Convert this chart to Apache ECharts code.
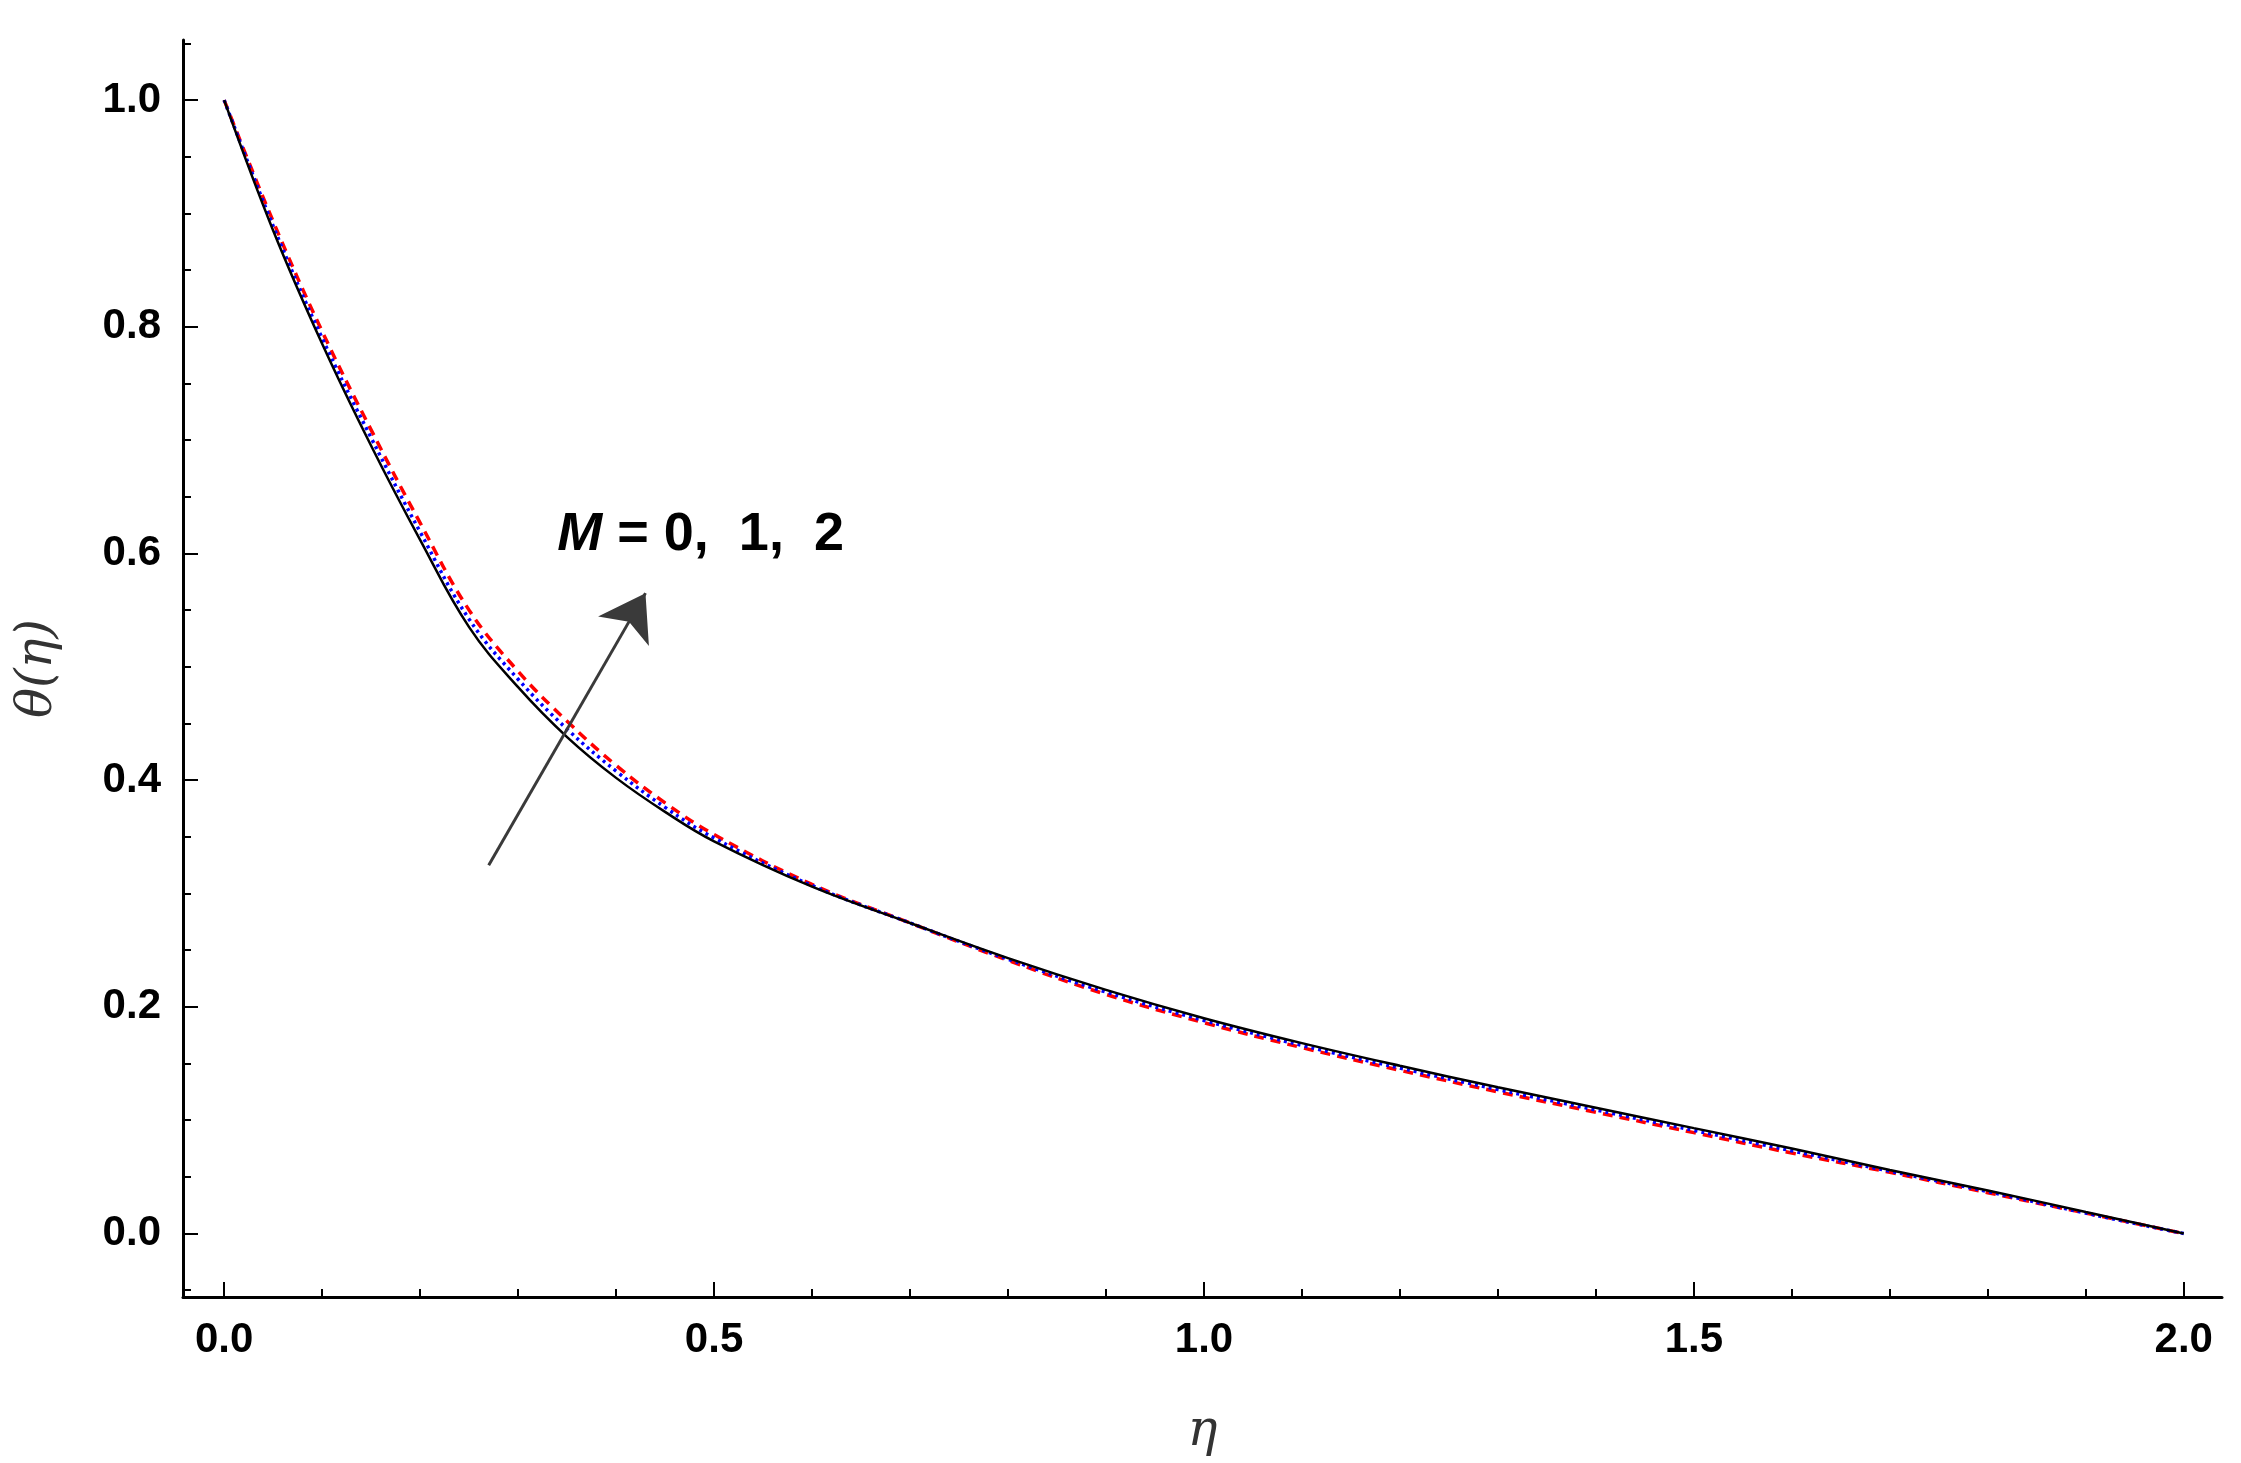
<!DOCTYPE html>
<html>
<head>
<meta charset="utf-8">
<script src="https://cdn.jsdelivr.net/npm/echarts@6/dist/echarts.min.js"></script>
<style>
  html, body { margin: 0; padding: 0; background: #fff; }
  #chart { width: 2241px; height: 1463px; }
</style>
</head>
<body>
<div id="chart"></div>
<script>
// Curve data
const eta = [0, 0.05, 0.1, 0.15, 0.2, 0.25, 0.3, 0.35, 0.4, 0.45, 0.5, 0.6, 0.7, 0.8, 0.9, 1.0,
  1.1, 1.2, 1.3, 1.4, 1.5, 1.6, 1.7, 1.8, 1.9, 2.0];
const thetaM0 = [1.0, 0.885, 0.785, 0.695, 0.612, 0.535, 0.482, 0.438, 0.402, 0.372, 0.346, 0.306, 0.274,
  0.243, 0.215, 0.19, 0.168, 0.148, 0.129, 0.111, 0.093, 0.075, 0.056, 0.038, 0.019, 0.0];
const thetaM1 = [1.0, 0.889, 0.79, 0.702, 0.619, 0.542, 0.489, 0.445, 0.408, 0.376, 0.349, 0.307, 0.274,
  0.242, 0.213, 0.188, 0.166, 0.146, 0.127, 0.109, 0.091, 0.073, 0.055, 0.037, 0.018, 0.0];
const thetaM2 = [1.0, 0.893, 0.796, 0.709, 0.627, 0.55, 0.496, 0.452, 0.413, 0.38, 0.352, 0.308, 0.274,
  0.241, 0.211, 0.186, 0.164, 0.144, 0.125, 0.107, 0.089, 0.071, 0.054, 0.036, 0.018, 0.0];
const xMajor = [0, 0.5, 1, 1.5, 2];
const xMinor = [0, 0.1, 0.2, 0.3, 0.4, 0.5, 0.6, 0.7, 0.8, 0.9, 1, 1.1, 1.2, 1.3, 1.4, 1.5,
  1.6, 1.7, 1.8, 1.9, 2];
const yMajor = [0, 0.2, 0.4, 0.6, 0.8, 1.0];
const yMinor = [-0.05, 0, 0.05, 0.1, 0.15, 0.2, 0.25, 0.3, 0.35, 0.4, 0.45, 0.5, 0.55, 0.6,
  0.65, 0.7, 0.75, 0.8, 0.85, 0.9, 0.95, 1.0, 1.05];
const arrowFrom = [0.27, 0.325];
const arrowTo = [0.43, 0.565];

const pair = (ys) => eta.map((x, i) => [x, ys[i]]);
const chart = echarts.init(document.getElementById("chart"));
const font = '"Liberation Sans", Arial, sans-serif';
const xMin = -0.042, xMax = 2.039, yMin = -0.056, yMax = 1.053;

const lineBase = { type: "line", smooth: 0.4, showSymbol: false, silent: true };

chart.setOption({
  animation: false,
  grid: { left: 183, right: 19, top: 40, bottom: 166 },
  xAxis: [
    {
      type: "value", min: xMin, max: xMax, splitLine: { show: false },
      axisLine: { onZero: false, lineStyle: { color: "#000", width: 3 } },
      axisTick: { inside: true, length: 8, customValues: xMinor, lineStyle: { color: "#000", width: 2 } },
      axisLabel: { customValues: xMajor, formatter: (v) => v.toFixed(1), color: "#000",
        fontFamily: font, fontWeight: "bold", fontSize: 42, margin: 22 },
      name: "η", nameLocation: "middle", nameGap: 110,
      nameTextStyle: { fontFamily: "DejaVu Serif", fontStyle: "italic", fontSize: 50, color: "#333" },
    },
    {
      type: "value", min: xMin, max: xMax, position: "bottom",
      splitLine: { show: false }, axisLine: { show: false, onZero: false }, axisLabel: { show: false },
      axisTick: { inside: true, length: 15, customValues: xMajor, lineStyle: { color: "#000", width: 2 } },
    },
  ],
  yAxis: [
    {
      type: "value", min: yMin, max: yMax, splitLine: { show: false },
      axisLine: { onZero: false, lineStyle: { color: "#000", width: 3 } },
      axisTick: { inside: true, length: 8, customValues: yMinor, lineStyle: { color: "#000", width: 2 } },
      axisLabel: { customValues: yMajor, formatter: (v) => v.toFixed(1), color: "#000",
        fontFamily: font, fontWeight: "bold", fontSize: 42, margin: 22 },
      name: "θ(η)", nameLocation: "middle", nameGap: 120, nameRotate: 90,
      nameTextStyle: { fontFamily: "DejaVu Serif", fontStyle: "italic", fontSize: 50, color: "#333" },
    },
    {
      type: "value", min: yMin, max: yMax, position: "left",
      splitLine: { show: false }, axisLine: { show: false, onZero: false }, axisLabel: { show: false },
      axisTick: { inside: true, length: 15, customValues: yMajor, lineStyle: { color: "#000", width: 2 } },
    },
  ],
  series: [
    { ...lineBase, name: "M=2", data: pair(thetaM2), lineStyle: { color: "#ff0000", width: 3.5, type: [10, 7] } },
    { ...lineBase, name: "M=1", data: pair(thetaM1), lineStyle: { color: "#0000ff", width: 3.5, type: [3, 4] } },
    {
      ...lineBase, name: "M=0", data: pair(thetaM0), lineStyle: { color: "#000", width: 2.5 },
      markLine: {
        silent: true, symbol: ["none", "arrow"], symbolSize: 44,
        lineStyle: { color: "#3a3a3a", width: 3, type: "solid" }, label: { show: false },
        data: [[{ coord: arrowFrom }, { coord: arrowTo }]],
      },
    },
  ],
});

const p = chart.convertToPixel({ xAxisIndex: 0, yAxisIndex: 0 }, [0.34, 0.605]);
chart.setOption({
  graphic: [{
    type: "text", left: p[0], top: p[1] - 40,
    style: {
      text: "{m|M} = 0,  1,  2",
      fontFamily: font, fontWeight: "bold", fontSize: 54, fill: "#000",
      rich: { m: { fontFamily: font, fontWeight: "bold", fontStyle: "italic", fontSize: 54 } },
    },
  }],
});
</script>
</body>
</html>
